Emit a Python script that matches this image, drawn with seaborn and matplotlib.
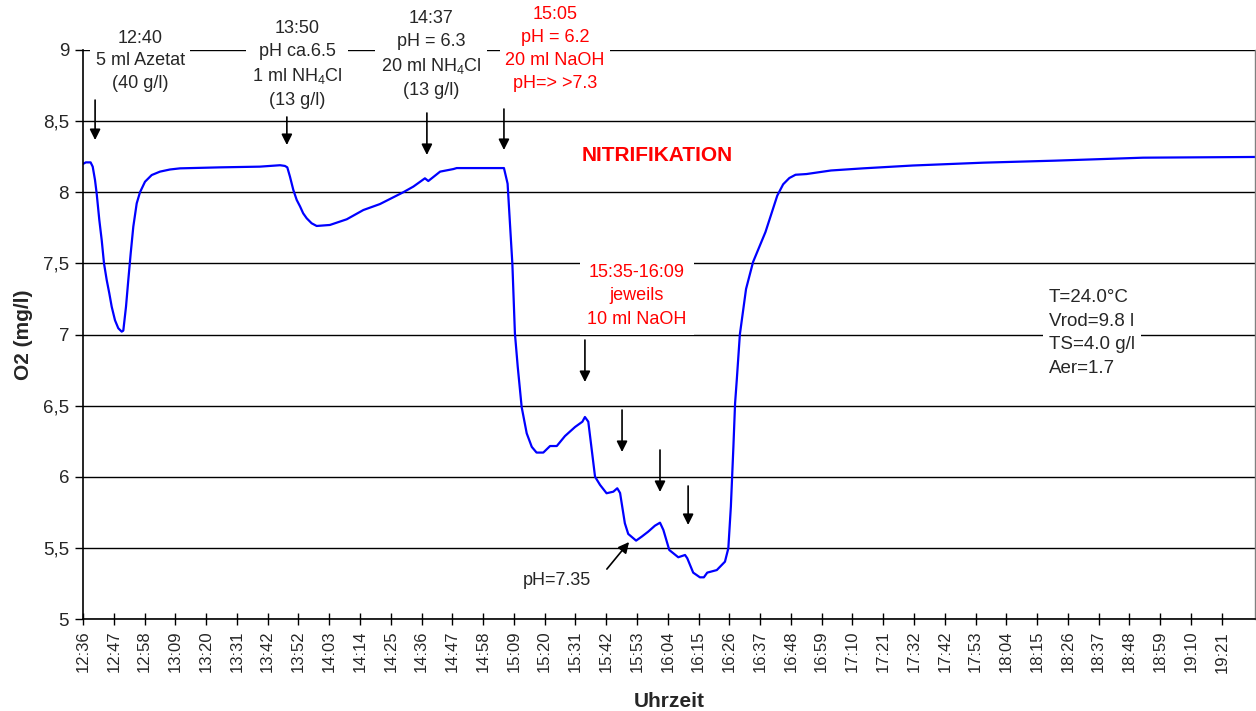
import numpy as np
import pandas as pd
import matplotlib
matplotlib.use("Agg")
import matplotlib.pyplot as plt
from matplotlib.ticker import FuncFormatter, MultipleLocator
import seaborn as sns

# Elapsed time in minutes since 12:36 and dissolved oxygen in mg/l
t_min = [0.1, 1.0, 2.7, 3.45, 4.27, 4.87, 5.80, 6.65, 7.47, 8.43, 9.35, 10.21,
         11.38, 12.55, 13.76, 14.33, 15.29, 16.11, 16.96, 17.89, 19.10, 20.27,
         22.05, 24.43, 27.38, 30.94, 34.5, 48.7, 62.9, 70.1, 71.8, 72.65, 73.6,
         74.8, 76.0, 77.2, 78.3, 79.55, 81.3, 83.1, 87.8, 93.8, 99.7, 105.6,
         113.9, 117.5, 121.6, 122.8, 127.0, 131.7, 132.9, 149.7, 150.7, 151.0,
         151.9, 152.7, 153.6, 154.6, 156.0, 157.8, 159.6, 161.3, 163.7, 166.1,
         168.5, 171.4, 175.0, 177.6, 178.5, 179.7, 182.1, 183.9, 186.2, 188.6,
         190.0, 191.0, 192.7, 193.9, 196.7, 198.7, 201.0, 203.4, 205.2, 206.4,
         208.5, 211.7, 214.1, 214.9, 217.0, 219.4, 220.8, 222.0, 225.4, 228.3,
         229.5, 230.4, 231.3, 231.9, 232.5, 233.6, 235.8, 238.3, 242.7, 246.9,
         249.0, 251.2, 253.4, 257.3, 266.0, 277.4, 295.1, 320.3, 345.5, 377.0,
         416.8]
o2 = [8.20, 8.21, 8.21, 8.18, 8.086, 7.99, 7.805, 7.664, 7.50, 7.383, 7.29, 7.195,
      7.10, 7.044, 7.02, 7.027, 7.195, 7.383, 7.57, 7.758, 7.922, 8.00,
      8.074, 8.121, 8.145, 8.16, 8.168, 8.175, 8.18, 8.19, 8.185, 8.175, 8.11,
      8.016, 7.946, 7.90, 7.852, 7.817, 7.782, 7.763, 7.77, 7.81, 7.875, 7.917,
      8.00, 8.04, 8.098, 8.079, 8.145, 8.163, 8.17, 8.17, 8.086, 8.06,
      7.76, 7.495, 7.008, 6.774, 6.49, 6.305, 6.21, 6.17, 6.17, 6.216,
      6.216, 6.286, 6.35, 6.387, 6.42, 6.387, 6.00, 5.942, 5.884, 5.895,
      5.919, 5.886, 5.673, 5.598, 5.551, 5.579, 5.614, 5.656, 5.677, 5.626,
      5.485, 5.434, 5.45, 5.427, 5.326, 5.293, 5.293, 5.326, 5.344, 5.403,
      5.497, 5.79, 6.21, 6.516, 6.68, 7.00, 7.32, 7.51, 7.72, 7.976,
      8.056, 8.10, 8.123, 8.128, 8.153, 8.168, 8.188, 8.208, 8.222, 8.243,
      8.248]

tick_labels = ["12:36", "12:47", "12:58", "13:09", "13:20", "13:31", "13:42",
               "13:52", "14:03", "14:14", "14:25", "14:36", "14:47", "14:58",
               "15:09", "15:20", "15:31", "15:42", "15:53", "16:04", "16:15",
               "16:26", "16:37", "16:48", "16:59", "17:10", "17:21", "17:32",
               "17:42", "17:53", "18:04", "18:15", "18:26", "18:37", "18:48",
               "18:59", "19:10", "19:21"]

# Dosing arrows: minute, arrow tail and tip level (mg/l)
dose_min = [4.3, 72.5, 122.3, 149.7, 178.5, 191.7, 205.2, 215.2]
dose_tail = [8.648, 8.529, 8.557, 8.585, 6.961, 6.469, 6.188, 5.935]
dose_tip = [8.367, 8.332, 8.262, 8.297, 6.666, 6.174, 5.893, 5.661]

sns.set_style("white")
plt.rcParams["font.family"] = ["Liberation Sans", "DejaVu Sans"]
plt.rcParams["mathtext.fontset"] = "custom"
plt.rcParams["mathtext.rm"] = "Liberation Sans"
plt.rcParams["mathtext.it"] = "Liberation Sans"
plt.rcParams["mathtext.bf"] = "Liberation Sans:bold"

df = pd.DataFrame({"t": t_min, "o2": o2})

fig, ax = plt.subplots(figsize=(12.56, 7.11), dpi=100)
fig.subplots_adjust(left=83 / 1256, right=1255 / 1256,
                    bottom=1 - 619 / 711, top=1 - 50 / 711)

sns.lineplot(data=df, x="t", y="o2", color="#0000FF", lw=1.6, ax=ax,
             sort=False, zorder=2)

# axes, grid and ticks
step = 405 / (len(tick_labels) - 1)
ax.set_xlim(0, 416.8)
ax.set_ylim(5, 9)
ax.set_xticks(np.arange(len(tick_labels)) * step)
ax.set_xticklabels(tick_labels, rotation=90, fontsize=12)
ax.yaxis.set_major_locator(MultipleLocator(0.5))
ax.yaxis.set_major_formatter(FuncFormatter(lambda v, p: f"{v:g}".replace(".", ",")))
ax.tick_params(axis="y", labelsize=13.5, length=6, width=1, direction="out",
               left=True, color="black", pad=4)
ax.tick_params(axis="x", length=9, width=1, direction="inout", bottom=True,
               color="black", pad=4)
ax.set_axisbelow(True)
ax.yaxis.grid(True, color="black", lw=1.0)
ax.xaxis.grid(False)
for side in ["left", "bottom"]:
    ax.spines[side].set_color("black")
    ax.spines[side].set_linewidth(1.2)
ax.spines["right"].set_color("#808080")
ax.spines["right"].set_linewidth(1.0)
ax.spines["top"].set_visible(False)

ax.set_xlabel("Uhrzeit", fontsize=15, fontweight="bold", labelpad=14)
ax.set_ylabel("O2 (mg/l)", fontsize=15, fontweight="bold", labelpad=7)

# dosing arrows
arrow_kw = dict(arrowstyle="-|>", color="black", lw=1.2, mutation_scale=16,
                shrinkA=0, shrinkB=0)
for m, y0, y1 in zip(dose_min, dose_tail, dose_tip):
    ax.annotate("", xy=(m, y1), xytext=(m, y0), arrowprops=arrow_kw,
                annotation_clip=False, zorder=4)
ax.annotate("", xy=(194.2, 5.541), xytext=(186.3, 5.351), arrowprops=arrow_kw,
            zorder=4)

box = dict(boxstyle="square,pad=0.3", fc="white", ec="none")
txt_kw = dict(ha="center", va="center", fontsize=13, linespacing=1.45,
              multialignment="center", zorder=5, bbox=box)
ax.text(20.3, 8.923, "12:40\n5 ml Azetat\n(40 g/l)", **txt_kw)
ax.text(76.1, 8.898, "13:50\npH ca.6.5\n1 ml NH$_4$Cl\n(13 g/l)", **txt_kw)
ax.text(123.8, 8.968, "14:37\npH = 6.3\n20 ml NH$_4$Cl\n(13 g/l)", **txt_kw)
ax.text(167.9, 9.007, "15:05\npH = 6.2\n20 ml NaOH\npH=> >7.3", color="#FF0000",
        **txt_kw)
ax.text(197.0, 7.274, "15:35-16:09\njeweils\n10 ml NaOH", color="#FF0000",
        **{**txt_kw, "linespacing": 1.5,
           "bbox": dict(boxstyle="square,pad=0.4", fc="white", ec="none")})
ax.text(204.1, 8.255, "NITRIFIKATION", color="#FF0000", fontsize=15,
        fontweight="bold", ha="center", va="center")
ax.text(343.5, 7.01, "T=24.0°C\nVrod=9.8 l\nTS=4.0 g/l\nAer=1.7", ha="left",
        va="center", fontsize=13.5, linespacing=1.52, zorder=5,
        bbox=dict(boxstyle="square,pad=0.3", fc="white", ec="none"))
ax.text(168.6, 5.274, "pH=7.35", ha="center", va="center", fontsize=13)

fig.savefig("out.png", dpi=100)
